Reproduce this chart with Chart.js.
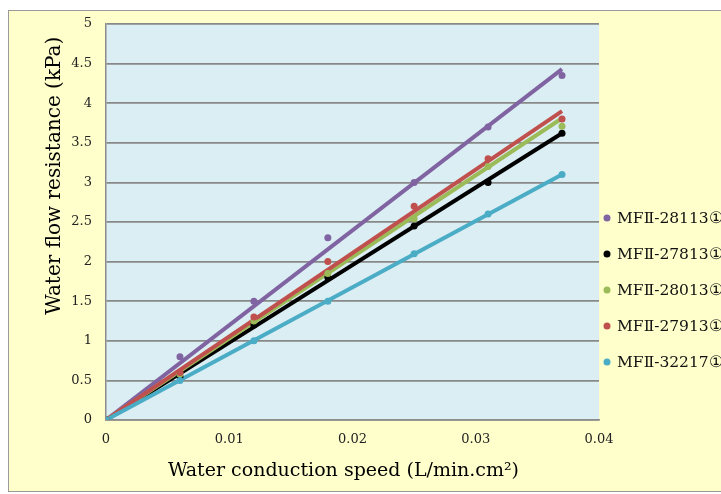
<!DOCTYPE html>
<html>
<head>
<meta charset="utf-8">
<script src="https://cdn.jsdelivr.net/npm/chart.js@4.4.1/dist/chart.umd.min.js"></script>
<style>
  html, body { margin: 0; padding: 0; overflow: hidden; background: #fff; width: 721px; height: 494px; }
  #frame { position: absolute; left: 8px; top: 10px; width: 760px; height: 480px; border: 1px solid #9a9a9a; background: #FFFFCC; }
  #chart { position: absolute; left: 0; top: 0; }
</style>
</head>
<body>
<div id="frame"></div>
<canvas id="chart" width="721" height="494"></canvas>
<script>
// measured speeds (L/min.cm2)
const speeds = [0, 0.006, 0.012, 0.018, 0.025, 0.031, 0.037];

const seriesNames = ["MFⅡ-28113①", "MFⅡ-27813①", "MFⅡ-28013①", "MFⅡ-27913①", "MFⅡ-32217①"];
const seriesColors = ["#8064A2", "#000000", "#9BBB59", "#C0504D", "#4BACC6"];

// water flow resistance (kPa) per sample
const mf28113 = [0, 0.8, 1.5, 2.3, 3.0, 3.7, 4.35];
const mf27813 = [0, 0.55, 1.2, 1.8, 2.45, 3.0, 3.62];
const mf28013 = [0, 0.58, 1.25, 1.85, 2.54, 3.2, 3.71];
const mf27913 = [0, 0.6, 1.3, 2.0, 2.7, 3.3, 3.8];
const mf32217 = [0, 0.5, 1.0, 1.5, 2.1, 2.6, 3.1];

// linear trendline value at the last speed
const trendEnd = [4.43, 3.62, 3.81, 3.9, 3.1];

const yTicks = [0, 0.5, 1, 1.5, 2, 2.5, 3, 3.5, 4, 4.5, 5];
const xTicks = [0, 0.01, 0.02, 0.03, 0.04];

const allSeries = [mf28113, mf27813, mf28013, mf27913, mf32217];

Chart.defaults.font.family = "'DejaVu Serif', serif";
Chart.defaults.color = "#222";

const datasets = [];
// trendlines, later ones drawn on top
allSeries.forEach((vals, i) => {
  datasets.push({
    label: seriesNames[i] + " trend",
    data: [{ x: speeds[0], y: 0 }, { x: speeds[speeds.length - 1], y: trendEnd[i] }],
    showLine: true,
    borderColor: seriesColors[i],
    borderWidth: 4,
    pointRadius: 0,
    order: 10 - i
  });
});
// measured points
allSeries.forEach((vals, i) => {
  datasets.push({
    label: seriesNames[i],
    data: speeds.map((s, k) => ({ x: s, y: vals[k] })),
    showLine: false,
    pointRadius: 3.5,
    pointBackgroundColor: seriesColors[i],
    pointBorderWidth: 0,
    order: 5 - i
  });
});

// light blue plot area
const plotBg = {
  id: "plotBg",
  beforeDraw(chart) {
    const { ctx, chartArea: a } = chart;
    ctx.save();
    ctx.fillStyle = "#DBEEF3";
    ctx.fillRect(a.left, a.top, a.right - a.left, a.bottom - a.top);
    ctx.restore();
  }
};

// legend with marker dots only (text runs off the right edge)
const sideLegend = {
  id: "sideLegend",
  afterDraw(chart) {
    const ctx = chart.ctx;
    ctx.save();
    ctx.font = "15.5px 'DejaVu Serif', serif";
    ctx.textBaseline = "middle";
    seriesNames.forEach((name, i) => {
      const y = 218 + i * 36;
      ctx.fillStyle = seriesColors[i];
      ctx.beginPath();
      ctx.arc(607, y, 3.5, 0, Math.PI * 2);
      ctx.fill();
      ctx.fillStyle = "#111";
      ctx.fillText(name, 617, y + 1);
    });
    ctx.restore();
  }
};

new Chart(document.getElementById("chart").getContext("2d"), {
  type: "scatter",
  data: { datasets: datasets },
  options: {
    responsive: false,
    animation: false,
    layout: { padding: { left: 0, top: 24, right: 122, bottom: 0 } },
    plugins: { legend: { display: false }, tooltip: { enabled: false } },
    scales: {
      x: {
        type: "linear",
        min: 0,
        max: 0.04,
        afterBuildTicks: (scale) => { scale.ticks = xTicks.map(v => ({ value: v })); },
        ticks: { font: { size: 13 }, padding: 12, callback: (v) => String(v) },
        grid: { display: false, drawTicks: false },
        border: { display: true, color: "#8c8c8c", width: 1.5 },
        title: {
          display: true,
          text: "Water conduction speed (L/min.cm²)   ",
          color: "#000",
          font: { size: 19 },
          padding: { top: 0, bottom: 12 }
        },
        afterFit: (scale) => { scale.height = 74; }
      },
      y: {
        min: 0,
        max: 5,
        afterBuildTicks: (scale) => { scale.ticks = yTicks.map(v => ({ value: v })); },
        ticks: { font: { size: 13 }, padding: 14, callback: (v) => String(v) },
        grid: { color: "#888888", lineWidth: 1.7, drawTicks: false },
        border: { display: true, color: "#8c8c8c", width: 1.5 },
        title: {
          display: true,
          text: "Water flow resistance (kPa)  ",
          color: "#000",
          align: "end",
          font: { size: 20 },
          padding: { top: 43, bottom: 0 }
        },
        afterFit: (scale) => { scale.width = 106; }
      }
    }
  },
  plugins: [plotBg, sideLegend]
});
</script>
</body>
</html>
